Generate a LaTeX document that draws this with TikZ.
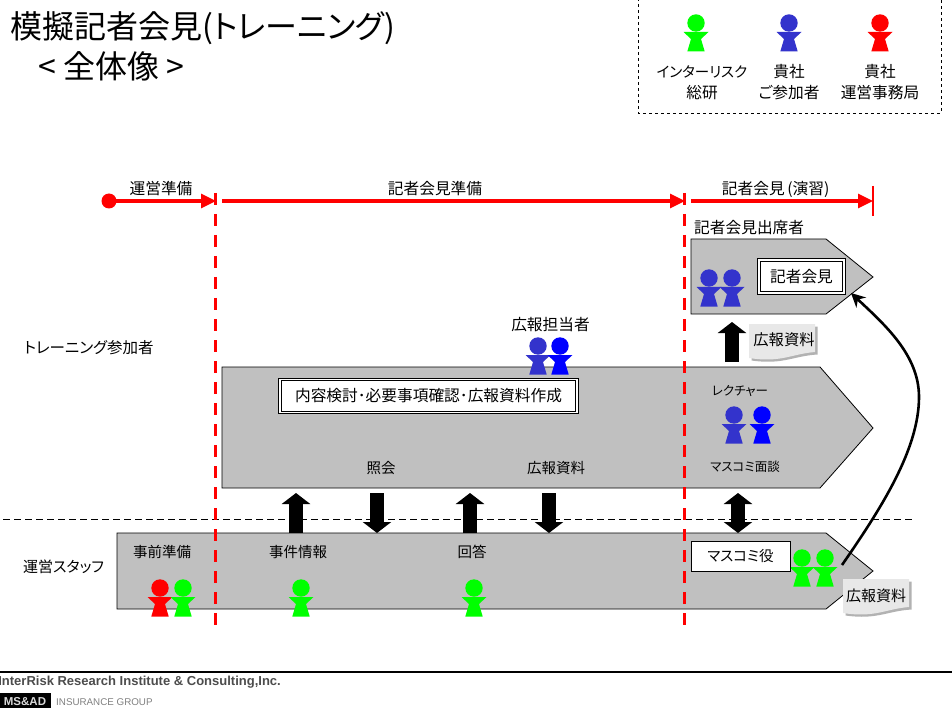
\documentclass[tikz,border=0pt]{standalone}
\usepackage{fontspec}
\setmainfont{Noto Sans CJK JP}[RawFeature=+palt]
\newfontfamily\latinfont{Liberation Sans}
\usetikzlibrary{arrows.meta}
\definecolor{ppgreen}{HTML}{00FF00}
\definecolor{ppblue}{HTML}{3333CC}
\definecolor{ppred}{HTML}{FF0000}
\definecolor{stagegray}{HTML}{C0C0C0}
\tikzset{
  lbl/.style={inner sep=0pt, font=\fontsize{15.7}{17}\selectfont},
  kana/.style={inner sep=0pt, font=\fontsize{14.5}{16}\selectfont},
  smallkana/.style={inner sep=0pt, font=\fontsize{12.5}{14}\selectfont},
  stage/.style={draw=black, line width=0.8pt, fill=stagegray},
  phase/.style={draw=ppred, line width=3.2pt, -{Triangle[width=14pt,length=15pt]}},
  border/.style={draw=ppred, line width=3pt, dash pattern=on 12pt off 9pt},
  blockup/.style={line width=14pt, -{Triangle[width=28pt,length=11pt]}},
  blockboth/.style={line width=14pt, {Triangle[width=28pt,length=11pt]}-{Triangle[width=28pt,length=11pt]}},
  dblbox/.style={lbl, draw=black, fill=white, line width=0.8pt, double=white, double distance=1.6pt, minimum height=33pt},
  pics/person/.style={code={
    \fill[pic actions] (0,0) circle (8.7);
    \fill[pic actions] (-12.5,9) -- (12.5,9) -- (5,16) -- (8.7,28.5) -- (-8.7,28.5) -- (-5,16) -- cycle;
  }},
  pics/paper/.style={code={
    \fill[gray!60] (2.5,2.5) -- (68.5,2.5) -- (68.5,30.5) .. controls (44,32) and (34,41) .. (2.5,36.5) -- cycle;
    \fill[black!9] (0,0) -- (66,0) -- (66,28) .. controls (42,30) and (32,39) .. (0,34) -- cycle;
  }}
}
\begin{document}
\begin{tikzpicture}[x=1pt,y=-1pt]
\useasboundingbox (0,0) rectangle (952,708);

% Title
\node[anchor=west, inner sep=0pt, font=\fontsize{32}{35}\selectfont] (title) at (10,28) {模擬記者会見(トレーニング)};
\node[anchor=west, inner sep=0pt, font=\fontsize{32}{35}\selectfont] (subtitle) at (38,66) {< 全体像 >};

% Legend
\draw[dashed, line width=0.7pt] (638,-2) rectangle (941,113);
\foreach \x/\c in {696/ppgreen, 789/ppblue, 880/ppred}
  \pic[fill=\c] at (\x,23) {person};
\node[kana] (lgA) at (702,72) {インターリスク};
\node[lbl] (lgB) at (702,93) {総研};
\node[lbl] (lgC) at (789,72) {貴社};
\node[lbl] (lgD) at (789,93) {ご参加者};
\node[lbl] (lgE) at (880,72) {貴社};
\node[lbl] (lgF) at (880,93) {運営事務局};

% Separator
\draw[dashed, line width=0.8pt, dash pattern=on 7pt off 4pt] (3,519) -- (912,519);

% Stages
\draw[stage] (691,239) -- (826,239) -- (873,277) -- (826,314) -- (691,314) -- cycle;
\draw[stage] (222,367) -- (820,367) -- (873,428) -- (820,488) -- (222,488) -- cycle;
\draw[stage] (117,533) -- (826,533) -- (873,571) -- (826,609) -- (117,609) -- cycle;

% Phase borders
\draw[border] (215,193) -- (215,625);
\draw[border] (684,193) -- (684,625);

% Timeline
\coordinate (tStart) at (109,201);
\coordinate (tA) at (216,201);
\coordinate (tB) at (222,201);
\coordinate (tC) at (685,201);
\coordinate (tD) at (691,201);
\coordinate (tEnd) at (873,201);
\fill[ppred] (tStart) circle (7.5);
\draw[phase] (tStart) -- (tA);
\draw[phase] (tB) -- (tC);
\draw[phase] (tD) -- (tEnd);
\draw[ppred, line width=2.8pt] (873,186) -- (873,216);
\node[lbl] (phA) at (161,189) {運営準備};
\node[lbl] (phB) at (435,189) {記者会見準備};
\node[lbl] (phC) at (777,189) {記者会見\,(演習)\,};

% Block arrows
\foreach \n/\x/\a/\b in {arA/296/533/493, arB/377/493/533, arC/470/533/493, arD/549/493/533, arE/732/362/322} {
  \coordinate (\n s) at (\x,\a);
  \coordinate (\n e) at (\x,\b);
  \draw[blockup] (\n s) -- (\n e);
}
\coordinate (arFs) at (738,493);
\coordinate (arFe) at (738,533);
\draw[blockboth] (arFs) -- (arFe);

% People
\foreach \x/\y/\c in {709/278/ppblue, 732/278/ppblue, 538/346/ppblue, 560/346/blue,
  734/415/ppblue, 762/415/blue, 802/558/ppgreen, 825/558/ppgreen,
  160/588/ppred, 183/588/ppgreen, 301/588/ppgreen, 474/588/ppgreen}
  \pic[fill=\c] at (\x,\y) {person};

% Boxes
\node[dblbox, minimum width=85pt] (press) at (801.5,276.5) {記者会見};
\node[dblbox, minimum width=297pt] (work) at (428.5,396) {内容検討･必要事項確認･広報資料作成};
\node[kana, draw=black, fill=white, line width=0.8pt, minimum width=99pt, minimum height=30pt] (mediarole) at (740.5,556) {マスコミ役};

% Curved arrow
\coordinate (curveS) at (842,565);
\coordinate (curveM) at (919,397);
\coordinate (curveE) at (851,293);
\draw[line width=2.6pt, -{Stealth[width=14pt,length=14pt]}] (curveS) .. controls (880,510) and (919,450) .. (curveM) .. controls (919,355) and (885,325) .. (curveE);

% Documents
\pic at (749,324) {paper};
\pic at (843,579) {paper};
\node[inner sep=0pt, font=\fontsize{15.3}{17}\selectfont] (docA) at (784,340) {広報資料};
\node[inner sep=0pt, font=\fontsize{15}{17}\selectfont] (docB) at (876,596) {広報資料};

% Labels
\node[inner sep=0pt, anchor=west, font=\fontsize{15.5}{17}\selectfont] (rowA) at (24,348) {トレーニング参加者};
\node[inner sep=0pt, anchor=west, font=\fontsize{15}{17}\selectfont] (rowB) at (23,567) {運営スタッフ};
\node[lbl, anchor=west] (attend) at (694,228) {記者会見出席者};
\node[lbl] (staff) at (550.5,325) {広報担当者};
\node[smallkana] (lecture) at (740,391) {レクチャー};
\node[kana] (query) at (381,468) {照会};
\node[kana] (docC) at (556,468) {広報資料};
\node[smallkana] (media) at (745,467) {マスコミ面談};
\node[kana] (prep) at (162,552) {事前準備};
\node[kana] (incident) at (298,552) {事件情報};
\node[kana] (reply) at (472,552) {回答};

% Footer
\draw[line width=1.6pt] (0,672) -- (952,672);
\node[anchor=east, inner sep=0pt, font=\latinfont\bfseries\fontsize{13}{15}\selectfont, text=black!70] (company) at (281,682) {InterRisk Research Institute \& Consulting,Inc.};
\fill[black] (0,692.5) rectangle (51,708);
\node[inner sep=0pt, font=\latinfont\bfseries\fontsize{11.5}{13}\selectfont, text=white!85!black] (msad) at (25,702) {MS\&AD};
\node[anchor=west, inner sep=0pt, font=\latinfont\fontsize{9.8}{11}\selectfont, text=black!50] (group) at (56,702) {INSURANCE GROUP};
\end{tikzpicture}
\end{document}
